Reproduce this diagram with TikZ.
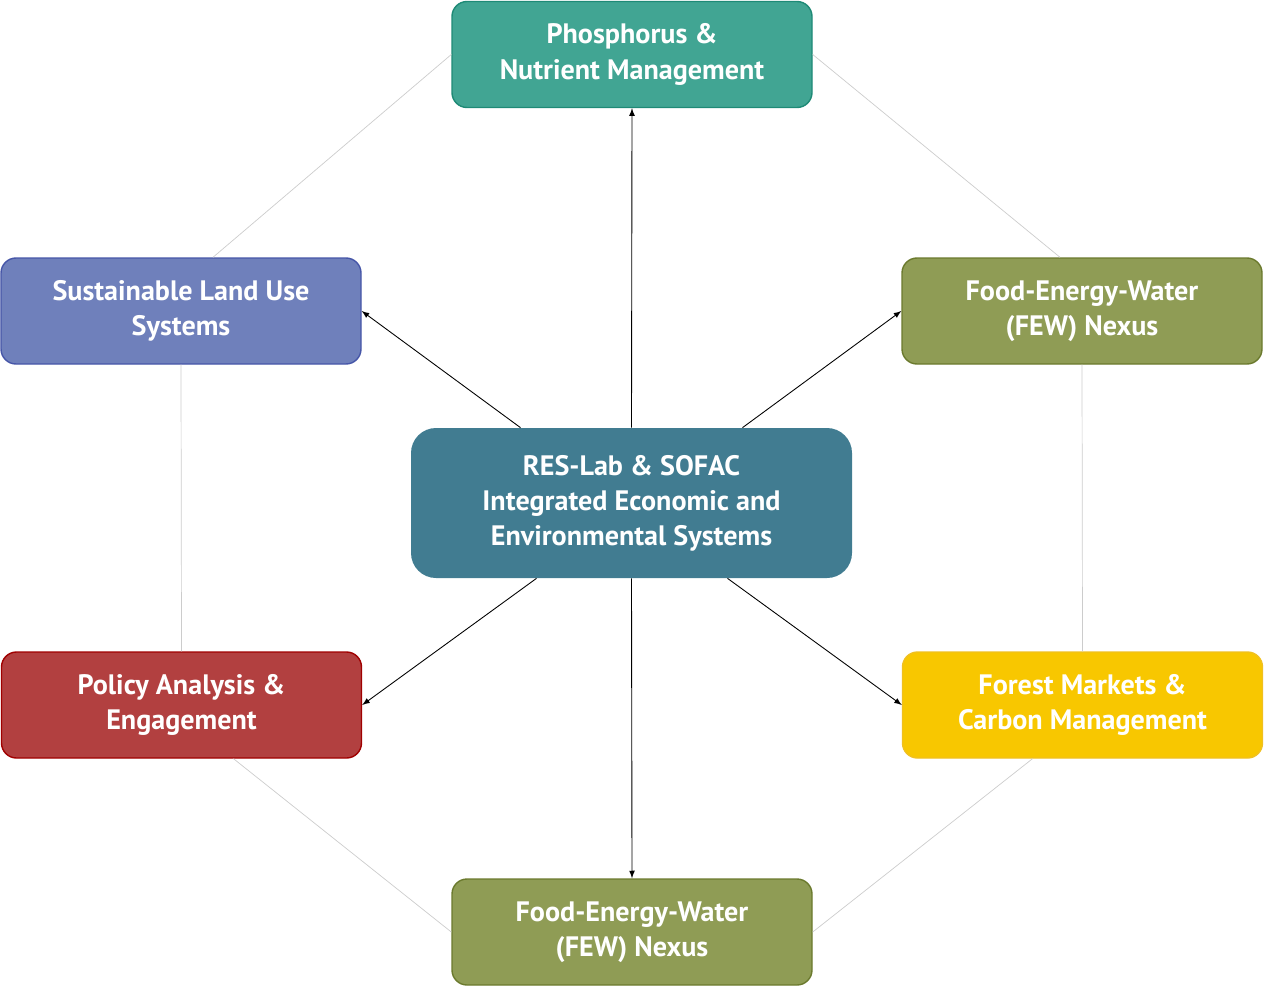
\documentclass[tikz,border=0pt]{standalone}
\usepackage{fontspec}
\setmainfont{PT Sans}
\usepackage{tikz}
\usetikzlibrary{calc,arrows}
\definecolor{teal1}{HTML}{41A593}
\definecolor{teal1b}{HTML}{1E8A76}
\definecolor{blue1}{HTML}{6F80BB}
\definecolor{blue1b}{HTML}{4656A8}
\definecolor{olive1}{HTML}{8F9C55}
\definecolor{olive1b}{HTML}{6B7A2E}
\definecolor{core}{HTML}{417C91}
\definecolor{red1}{HTML}{B24040}
\definecolor{red1b}{HTML}{A00000}
\definecolor{gold1}{HTML}{F8C700}
\definecolor{gold1b}{HTML}{F0C020}
\tikzstyle{topic} = [rectangle, rounded corners=0.3cm, minimum width=7.2cm, minimum height=2.12cm, text centered, align=center, line width=0.8pt, text=white, font=\bfseries\fontsize{16}{20}\selectfont]
\tikzstyle{hub} = [rectangle, rounded corners=0.5cm, minimum width=8.82cm, minimum height=3cm, text centered, align=center, fill=core, text=white, font=\bfseries\fontsize{16}{20}\selectfont]
\tikzstyle{arrow} = [->,>=latex, line width=0.5pt]
\tikzstyle{link} = [gray!40, line width=0.4pt]

\begin{document}
\begin{tikzpicture}
\useasboundingbox (0,0) rectangle (25.28,-19.86);

\node (hub) [hub] at (12.63,-10.06) {RES-Lab \& SOFAC\\Integrated Economic and\\Environmental Systems};
\node (phos) [topic, fill=teal1, draw=teal1b] at (12.64,-1.09) {Phosphorus \&\\Nutrient Management};
\node (land) [topic, fill=blue1, draw=blue1b] at (3.62,-6.22) {Sustainable Land Use\\Systems};
\node (fewa) [topic, fill=olive1, draw=olive1b] at (21.64,-6.22) {Food-Energy-Water\\(FEW) Nexus};
\node (policy) [topic, fill=red1, draw=red1b] at (3.63,-14.1) {Policy Analysis \&\\Engagement};
\node (forest) [topic, fill=gold1, draw=gold1b] at (21.65,-14.1) {Forest Markets \&\\Carbon Management};
\node (fewb) [topic, fill=olive1, draw=olive1b] at (12.64,-18.64) {Food-Energy-Water\\(FEW) Nexus};

% ring
\draw [link] (phos.west) -- ([xshift=0.64cm]land.north);
\draw [link] (phos.east) -- ([xshift=-0.44cm]fewa.north);
\draw [link] (land.south) -- (policy.north);
\draw [link] (fewa.south) -- (forest.north);
\draw [link] ([xshift=1.04cm]policy.south) -- (fewb.west);
\draw [link] ([xshift=-1.0cm]forest.south) -- (fewb.east);

% spokes
\draw [arrow] (hub.north) -- (phos.south);
\draw [arrow] ([xshift=-2.22cm]hub.north) -- (land.east);
\draw [arrow] ([xshift=2.22cm]hub.north) -- (fewa.west);
\draw [arrow] ([xshift=-1.9cm]hub.south) -- (policy.east);
\draw [arrow] ([xshift=1.92cm]hub.south) -- (forest.west);
\draw [arrow] (hub.south) -- (fewb.north);

\end{tikzpicture}
\end{document}
